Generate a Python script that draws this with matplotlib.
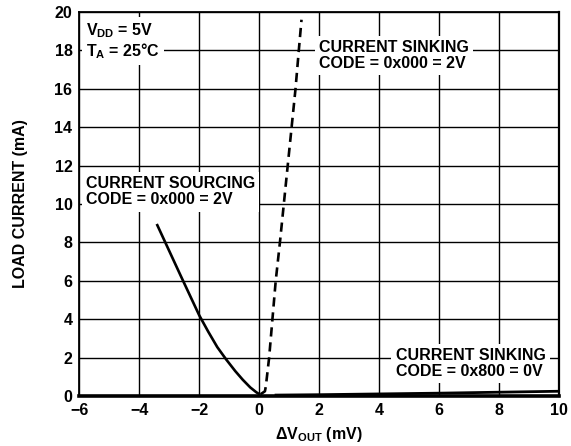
import matplotlib
matplotlib.use("Agg")
import matplotlib.pyplot as plt

plt.rcParams['font.family'] = ['Liberation Sans', 'DejaVu Sans']
plt.rcParams['font.weight'] = 'bold'
plt.rcParams['mathtext.fontset'] = 'custom'
plt.rcParams['mathtext.rm'] = 'Liberation Sans:bold'
plt.rcParams['mathtext.bf'] = 'Liberation Sans:bold'
plt.rcParams['mathtext.default'] = 'bf'

# current sourcing, code 0x000 = 2V
src_dv = [-3.4, -3.0, -2.6, -2.3, -2.0, -1.7, -1.4, -1.1, -0.8, -0.55, -0.3, -0.1, 0.0]
src_i = [8.9, 7.55, 6.2, 5.2, 4.2, 3.35, 2.55, 1.9, 1.3, 0.85, 0.45, 0.2, 0.1]

# current sinking, code 0x000 = 2V
snk_dv = [0.05, 0.19, 0.22, 0.33, 0.44, 0.55, 0.69, 0.82, 0.95, 1.08, 1.21, 1.32, 1.41]
snk_i = [0.1, 0.25, 0.5, 2.0, 4.0, 6.0, 8.0, 10.0, 12.0, 14.0, 16.0, 18.0, 19.6]

# current sinking, code 0x800 = 0V
zero_dv = [0.56, 2, 4, 6, 8, 10]
zero_i = [0.05, 0.07, 0.11, 0.15, 0.2, 0.25]

xticks = [-6, -4, -2, 0, 2, 4, 6, 8, 10]
yticks = [0, 2, 4, 6, 8, 10, 12, 14, 16, 18, 20]

fs = 11.5

fig = plt.figure(figsize=(5.71, 4.46), dpi=100)
ax = fig.add_axes([0.139, 0.112, 0.84, 0.861])

ax.plot(src_dv, src_i, color='black', lw=1.9, zorder=3)
ax.plot(snk_dv, snk_i, color='black', lw=1.9, ls=(0, (3.5, 2.2)), zorder=3)
ax.plot(zero_dv, zero_i, color='black', lw=2.0, zorder=3)

ax.set_xlim(-6, 10)
ax.set_ylim(0, 20)
ax.set_xticks(xticks)
ax.set_yticks(yticks)
ax.set_xticklabels(['\u2212' + str(-t) if t < 0 else str(t) for t in xticks])
ax.tick_params(length=0, labelsize=fs, pad=5)
ax.grid(True, color='black', lw=1.0, zorder=1)
ax.set_axisbelow(True)
for s in ['left', 'top']:
    ax.spines[s].set_linewidth(1.3)
ax.spines['right'].set_linewidth(1.6)
ax.spines['bottom'].set_linewidth(2.6)

ax.set_ylabel('LOAD CURRENT (mA)', fontsize=fs, fontweight='bold', labelpad=19)
ax.set_xlabel('\u0394V$_{OUT}$ (mV)', fontsize=fs, fontweight='bold', labelpad=5)

box = dict(facecolor='white', edgecolor='none', pad=3)
ax.text(-5.78, 19.5, 'V$_{DD}$ = 5V\nT$_A$ = 25\u00b0C', fontsize=fs, fontweight='bold',
        va='top', ha='left', bbox=box, zorder=4, linespacing=1.05)
ax.text(2.0, 18.55, 'CURRENT SINKING\nCODE = 0x000 = 2V', fontsize=fs, fontweight='bold',
        va='top', ha='left', bbox=box, zorder=4, linespacing=1.1)
ax.text(-5.78, 11.45, 'CURRENT SOURCING\nCODE = 0x000 = 2V', fontsize=fs, fontweight='bold',
        va='top', ha='left', bbox=box, zorder=4, linespacing=1.1)
ax.text(4.55, 2.5, 'CURRENT SINKING\nCODE = 0x800 = 0V', fontsize=fs, fontweight='bold',
        va='top', ha='left', bbox=box, zorder=4, linespacing=1.1)

fig.savefig('out.png', dpi=100)
